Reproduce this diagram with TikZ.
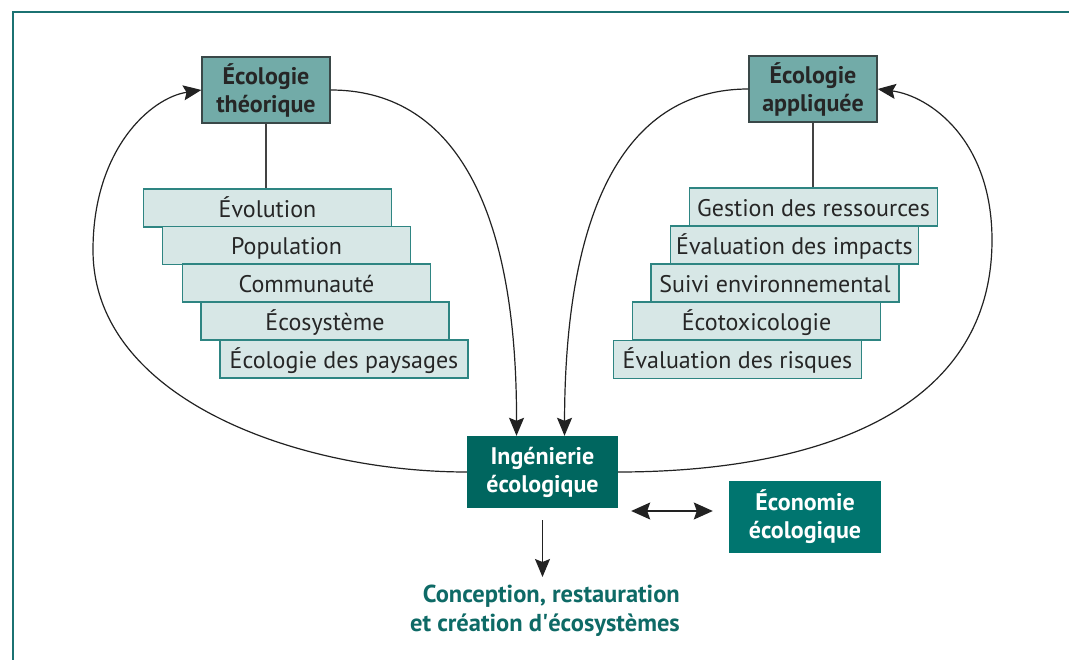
\documentclass[tikz,border=0pt]{standalone}
\usepackage{fontspec}
\setmainfont{PT Sans}
\usetikzlibrary{arrows.meta,calc}
\definecolor{framecol}{HTML}{1B7272}
\definecolor{topfill}{HTML}{72ABA8}
\definecolor{topborder}{HTML}{3A4848}
\definecolor{stackfill}{HTML}{D7E7E6}
\definecolor{stackborder}{HTML}{2E8582}
\definecolor{ingfill}{HTML}{00665F}
\definecolor{ecofill}{HTML}{00756F}
\definecolor{titlecol}{HTML}{0E6A66}
\definecolor{linecol}{HTML}{222222}
\tikzset{
  stackbox/.style={draw=stackborder, line width=1.3pt, fill=stackfill, minimum width=248pt, minimum height=38pt, inner sep=0pt, text=black!85, font=\fontsize{24}{28}\selectfont, text height=21pt, text depth=2pt},
  topbox/.style={draw=topborder, line width=1.3pt, fill=topfill, minimum width=128pt, minimum height=66pt, inner sep=0pt, align=center, text=black!85, font=\bfseries\fontsize{24}{28}\selectfont},
  darkbox/.style={fill=#1, minimum width=151pt, minimum height=72pt, inner sep=0pt, align=center, text=white, font=\bfseries\fontsize{24}{28}\selectfont},
  conn/.style={draw=linecol, line width=1.2pt, -{Stealth[length=18pt,width=15pt,inset=3pt]}},
  dbl/.style={draw=linecol, line width=1.2pt, {Stealth[length=19pt,width=17pt,inset=3pt]}-{Stealth[length=19pt,width=17pt,inset=3pt]}},
  plain/.style={draw=linecol!85, line width=1.2pt},
  titletext/.style={align=right, text=titlecol, inner sep=0pt, font=\bfseries\fontsize{24.5}{28.5}\selectfont}
}
\begin{document}
\begin{tikzpicture}[x=1pt,y=-1pt]
\useasboundingbox (0,0) rectangle (1069,660);
\fill[white] (0,0) rectangle (1069,660);
\draw[framecol, line width=2pt] (13,660) -- (13,12) -- (1069,12);

% top boxes
\node[topbox] (theo) at (266,90) {Écologie\\théorique};
\node[topbox] (appl) at (813,89) {Écologie\\appliquée};

% left stack
\node[stackbox] (evo) at (267.5,208) {Évolution};
\node[stackbox] (pop) at (286.5,245.5) {Population};
\node[stackbox] (com) at (306.5,283) {Communauté};
\node[stackbox] (eco1) at (325,321) {Écosystème};
\node[stackbox] (pay) at (344,359) {Écologie des paysages};

% right stack
\node[stackbox] (ges) at (813.5,207) {Gestion des ressources};
\node[stackbox] (imp) at (794.5,245) {Évaluation des impacts};
\node[stackbox] (sui) at (775,283) {Suivi environnemental};
\node[stackbox] (tox) at (756.5,321) {Écotoxicologie};
\node[stackbox] (ris) at (737.5,359.5) {Évaluation des risques};

\draw[plain] (theo.south) -- (theo.south |- evo.north);
\draw[plain] (appl.south) -- (appl.south |- ges.north);

% bottom boxes
\node[darkbox=ingfill] (ing) at (542.5,472) {Ingénierie\\écologique};
\node[darkbox=ecofill, minimum width=152pt] (eco) at (805,517) {Économie\\écologique};

\node[titletext, anchor=north east] (title) at (680,585) {Conception, restauration\\et création d\textquotesingle{}écosystèmes};

% connectors
\draw[conn] (ing.west) .. controls (300,472) and (93,400) .. (93,250) .. controls (93,150) and (150,98) .. (theo.west);
\draw[conn] (theo.east) .. controls (450,90) and (517,200) .. ([xshift=-26pt]ing.north);
\draw[conn] (appl.west) .. controls (630,89) and (565,200) .. ([xshift=22pt]ing.north);
\draw[conn] (ing.east) .. controls (800,472) and (992,420) .. (992,240) .. controls (992,140) and (930,96) .. (appl.east);
\draw[dbl, shorten <=13pt, shorten >=16pt] ([yshift=-39pt]ing.east) -- ([yshift=6pt]eco.west);
\draw[conn, shorten <=12pt, shorten >=8pt] (ing.south) -- (ing.south |- title.north);
\end{tikzpicture}
\end{document}
